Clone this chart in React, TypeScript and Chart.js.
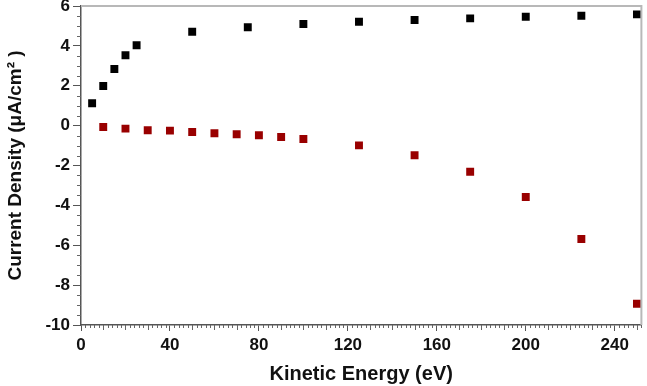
import React, { useEffect, useRef } from "react";
import { Chart, registerables } from "chart.js";

Chart.register(...registerables);

const blackEnergy = [5, 10, 15, 20, 25, 50, 75, 100, 125, 150, 175, 200, 225, 250];
const blackCurrent = [1.12, 1.99, 2.84, 3.53, 4.03, 4.71, 4.93, 5.1, 5.21, 5.3, 5.38, 5.46, 5.51, 5.58];
const redEnergy = [10, 20, 30, 40, 50, 60, 70, 80, 90, 100, 125, 150, 175, 200, 225, 250];
const redCurrent = [-0.07, -0.15, -0.23, -0.25, -0.32, -0.38, -0.43, -0.48, -0.57, -0.67, -0.99, -1.49, -2.31, -3.58, -5.69, -8.93];

const xMin = 0;
const xMax = 252;
const xStep = 40;
const yMin = -10;
const yMax = 6;
const yStep = 2;

const xTitle = "Kinetic Energy (eV)";
const yTitle = "Current Density (μA/cm² )";

const FONT = "'Liberation Sans', Arial, Helvetica, sans-serif";

const frameAndMinorTicks = {
  id: "frameAndMinorTicks",
  afterDraw(chart: any) {
    const { ctx, chartArea, scales } = chart;
    const { left, right, top, bottom } = chartArea;
    const x = scales.x;
    const y = scales.y;
    ctx.save();
    ctx.strokeStyle = "#666";
    ctx.lineWidth = 1;
    ctx.beginPath();
    for (let v = xMin; v <= xMax; v += 2) {
      if (v % xStep === 0) continue;
      const px = Math.round(x.getPixelForValue(v)) + 0.5;
      const len = v % 10 === 0 ? 5 : 3;
      ctx.moveTo(px, bottom);
      ctx.lineTo(px, bottom + len);
    }
    for (let v = yMin; v <= yMax; v += 0.5) {
      if (v % yStep === 0) continue;
      const py = Math.round(y.getPixelForValue(v)) + 0.5;
      const len = 4;
      ctx.moveTo(left, py);
      ctx.lineTo(left - len, py);
    }
    ctx.stroke();
    ctx.strokeStyle = "#b8b8b8";
    ctx.lineWidth = 2;
    ctx.beginPath();
    ctx.moveTo(left, top);
    ctx.lineTo(right, top);
    ctx.lineTo(right, bottom);
    ctx.stroke();
    ctx.restore();
  },
};

export default function App() {
  const ref = useRef<HTMLCanvasElement | null>(null);

  useEffect(() => {
    if (!ref.current) return;
    const chart = new Chart(ref.current, {
      type: "scatter",
      data: {
        datasets: [
          {
            label: "positive",
            data: blackEnergy.map((e, i) => ({ x: e, y: blackCurrent[i] })),
            backgroundColor: "#000000",
            borderColor: "#000000",
            pointStyle: "rect",
            pointRadius: 5.6,
            pointBorderWidth: 0,
          },
          {
            label: "negative",
            data: redEnergy.map((e, i) => ({ x: e, y: redCurrent[i] })),
            backgroundColor: "#990000",
            borderColor: "#990000",
            pointStyle: "rect",
            pointRadius: 5.6,
            pointBorderWidth: 0,
          },
        ],
      },
      options: {
        animation: false,
        responsive: true,
        maintainAspectRatio: false,
        layout: { padding: { top: 6, right: 4, left: 0, bottom: 0 } },
        plugins: {
          legend: { display: false },
          tooltip: { enabled: false },
        },
        scales: {
          x: {
            type: "linear",
            min: xMin,
            max: xMax,
            ticks: {
              stepSize: xStep,
              includeBounds: false,
              color: "#111",
              font: { family: FONT, size: 17, weight: "bold" },
              padding: 4,
              maxRotation: 0,
            },
            grid: {
              drawOnChartArea: false,
              drawTicks: true,
              tickLength: 6,
              tickColor: "#555",
              tickWidth: 1,
            },
            border: { display: true, color: "#555", width: 1.5 },
            title: {
              display: true,
              text: xTitle,
              color: "#111",
              font: { family: FONT, size: 20, weight: "bold" },
              padding: { top: 0, bottom: 0 },
            },
            afterFit: (scale: any) => {
              scale.height = 61;
              scale.paddingLeft = 0;
              scale.paddingRight = 0;
            },
          },
          y: {
            type: "linear",
            min: yMin,
            max: yMax,
            ticks: {
              stepSize: yStep,
              color: "#111",
              font: { family: FONT, size: 17, weight: "bold" },
              padding: 3,
            },
            grid: {
              drawOnChartArea: false,
              drawTicks: true,
              tickLength: 8,
              tickColor: "#555",
              tickWidth: 1,
            },
            border: { display: true, color: "#555", width: 1.5 },
            title: {
              display: true,
              text: yTitle,
              color: "#111",
              font: { family: FONT, size: 19, weight: "bold" },
              padding: { top: 4, bottom: 1 },
            },
            afterFit: (scale: any) => {
              scale.width = 81;
              scale.paddingTop = 0;
              scale.paddingBottom = 0;
            },
          },
        },
      },
      plugins: [frameAndMinorTicks],
    });
    return () => chart.destroy();
  }, []);

  return (
    <div style={{ position: "absolute", left: 0, top: 0, width: 647, height: 386, background: "#fff" }}>
      <canvas ref={ref} />
    </div>
  );
}
